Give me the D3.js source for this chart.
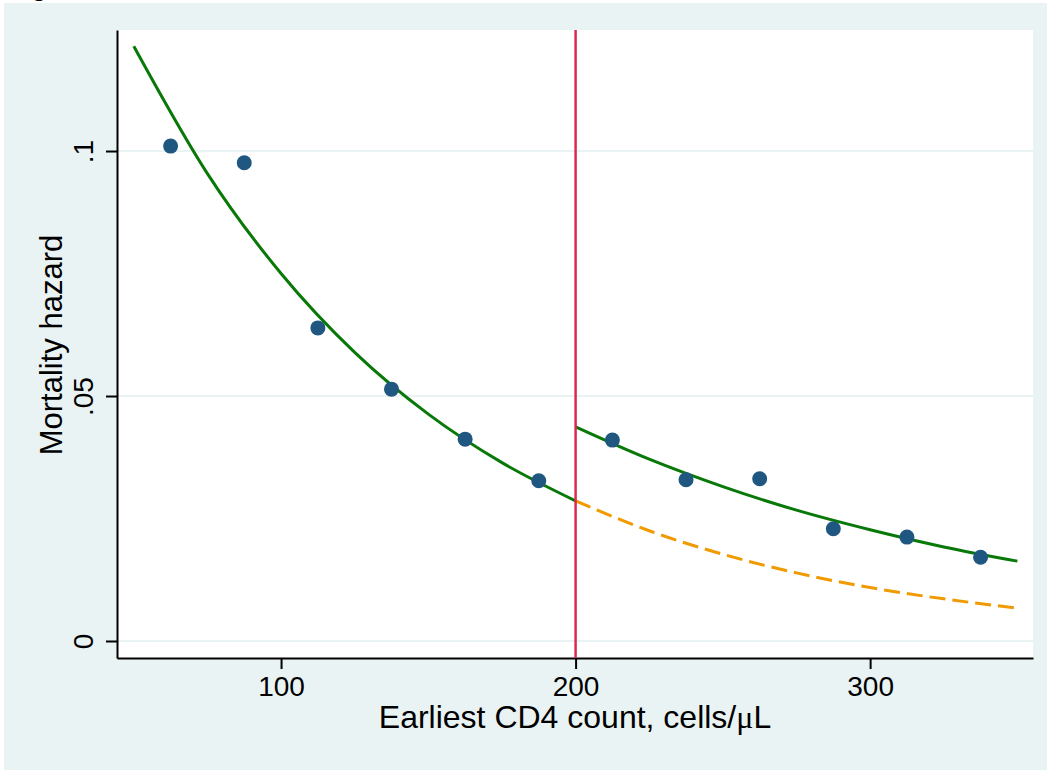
<!DOCTYPE html>
<html>
<head>
<meta charset="utf-8">
<script src="https://cdn.jsdelivr.net/npm/d3@7"></script>
<style>
  body { margin: 0; background: #fff; }
  svg { display: block; font-family: "Liberation Sans", Helvetica, Arial, sans-serif; }
</style>
</head>
<body>
<svg id="chart" width="1047" height="770"></svg>
<script>
// binned observed hazards (midpoints of 25-cell bins)
var binMid = [62.5, 87.5, 112.5, 137.5, 162.5, 187.5, 212.5, 237.5, 262.5, 287.5, 312.5, 337.5];
var hazard = [0.1010, 0.0976, 0.0639, 0.0514, 0.0412, 0.0327, 0.0410, 0.0329, 0.0331, 0.0229, 0.0212, 0.0171];

// fitted curves, every 25 cells
var fitLeftX = [50, 75, 100, 125, 150, 175, 200];
var fitLeftY = [0.1214, 0.0954, 0.0750, 0.0589, 0.0463, 0.0364, 0.0286];
var fitRightX = [200, 225, 250, 275, 300, 325, 350];
var fitRightY = [0.0437, 0.0371, 0.0315, 0.0267, 0.0227, 0.0192, 0.0163];
var projY = [0.0286, 0.0225, 0.0177, 0.0139, 0.0109, 0.0086, 0.0067];

var xTicks = [100, 200, 300];
var yTicks = [0, 0.05, 0.1];
var yTickLabels = ["0", ".05", ".1"];
var cutoff = 200;

var svg = d3.select("#chart");
var pLeft = 117, pRight = 1033, pTop = 30, pBottom = 658;

var x = d3.scaleLinear().domain([44.3, 355.3]).range([pLeft, pRight]);
var y = d3.scaleLinear().domain([-0.00347, 0.1247]).range([pBottom, pTop]);

// outer background
svg.append("rect").attr("x", 4).attr("y", 3).attr("width", 1043).attr("height", 767).attr("fill", "#eaf3f3");
// caption cut off above the figure
svg.append("text").attr("x", 8).attr("y", -5).attr("font-size", 28).text("Figure");

svg.append("rect").attr("x", pLeft).attr("y", pTop).attr("width", pRight - pLeft).attr("height", pBottom - pTop).attr("fill", "#fff");

// grid
svg.append("g").selectAll("line").data(yTicks).enter().append("line")
  .attr("x1", pLeft).attr("x2", pRight)
  .attr("y1", d => y(d)).attr("y2", d => y(d))
  .attr("stroke", "#eaf3f3").attr("stroke-width", 2);

// axes
var yAxis = svg.append("g").attr("transform", "translate(" + pLeft + ",0)")
  .call(d3.axisLeft(y).tickValues(yTicks).tickFormat((d, i) => yTickLabels[i]).tickSize(11).tickSizeOuter(0));
var xAxis = svg.append("g").attr("transform", "translate(0," + pBottom + ")")
  .call(d3.axisBottom(x).tickValues(xTicks).tickSize(11).tickSizeOuter(0));

[xAxis, yAxis].forEach(function(a) {
  a.select(".domain").attr("stroke", "#000").attr("stroke-width", 2);
  a.selectAll(".tick line").attr("stroke", "#000").attr("stroke-width", 2);
  a.selectAll("text").attr("font-size", 28).attr("font-family", "Liberation Sans, Helvetica, Arial, sans-serif").attr("fill", "#000");
});
xAxis.selectAll("text").attr("dy", null).attr("y", 38);
yAxis.selectAll(".tick text")
  .attr("x", null).attr("dy", null).attr("text-anchor", "middle")
  .attr("transform", "translate(-24,0) rotate(-90)");

// titles
var xt = svg.append("text").attr("x", 575).attr("y", 728).attr("text-anchor", "middle").attr("font-size", 32);
xt.append("tspan").text("Earliest CD4 count, cells/");
xt.append("tspan").attr("font-family", "Liberation Serif, Times New Roman, serif").text("\u03bc");
xt.append("tspan").text("L");
svg.append("text").attr("transform", "translate(62,345) rotate(-90)").attr("text-anchor", "middle")
  .attr("font-size", 31).text("Mortality hazard");

var line = d3.line().x(d => x(d[0])).y(d => y(d[1])).curve(d3.curveMonotoneX);

svg.append("path").datum(fitRightX.map((d, i) => [d, projY[i]]))
  .attr("d", line).attr("fill", "none").attr("stroke", "#f09a00").attr("stroke-width", 3)
  .attr("stroke-dasharray", "16,7");
svg.append("path").datum(fitLeftX.map((d, i) => [d, fitLeftY[i]]))
  .attr("d", line).attr("fill", "none").attr("stroke", "#087808").attr("stroke-width", 3);
svg.append("path").datum(fitRightX.map((d, i) => [d, fitRightY[i]]))
  .attr("d", line).attr("fill", "none").attr("stroke", "#087808").attr("stroke-width", 3);

svg.append("line").attr("x1", x(cutoff)).attr("x2", x(cutoff)).attr("y1", pTop).attr("y2", pBottom)
  .attr("stroke", "#dc2950").attr("stroke-width", 2.5);

svg.append("g").selectAll("circle").data(binMid).enter().append("circle")
  .attr("cx", d => x(d)).attr("cy", (d, i) => y(hazard[i])).attr("r", 7.5)
  .attr("fill", "#1f5780");
</script>
</body>
</html>
